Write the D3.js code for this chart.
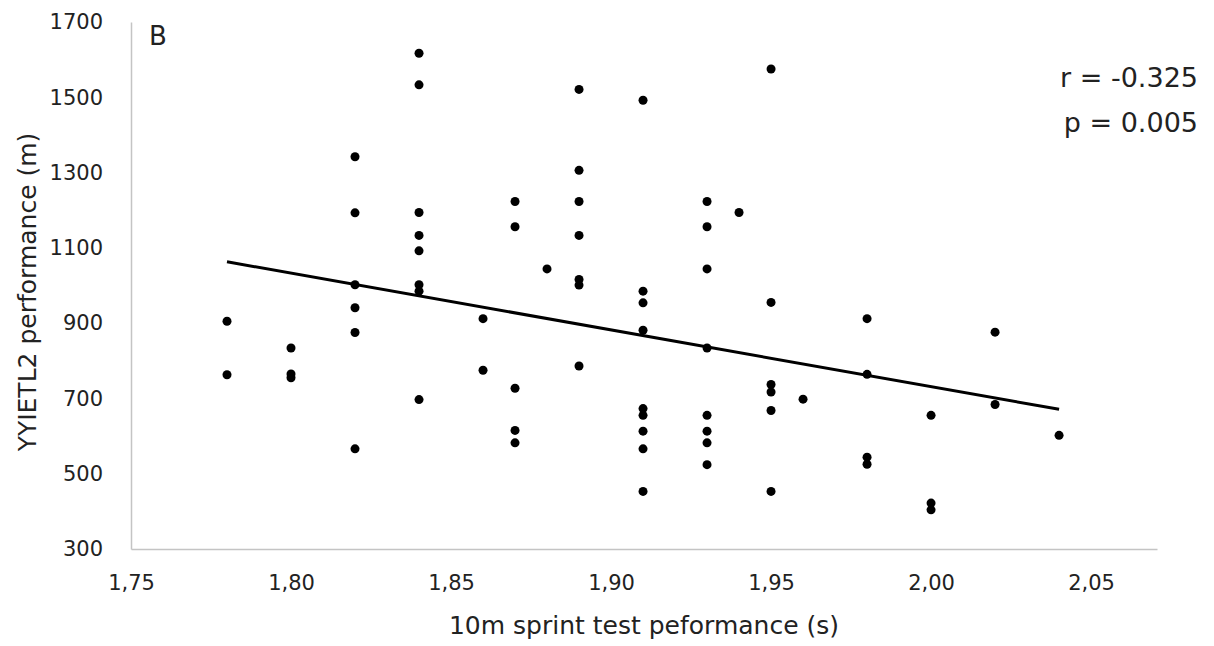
<!DOCTYPE html>
<html>
<head>
<meta charset="utf-8">
<script src="https://cdn.jsdelivr.net/npm/d3@7"></script>
<style>
  body { margin: 0; background: #fff; }
  svg text { font-family: "DejaVu Sans", Verdana, sans-serif; fill: #222; }
  .axis path { stroke: #c4c4c4; stroke-width: 1.5; }
</style>
</head>
<body>
<div id="chart"></div>
<script>
// sprint time (s) per group and the YYIETL2 distances (m)
const sprintTimes = [1.78, 1.80, 1.82, 1.84, 1.86, 1.87, 1.88, 1.89, 1.91, 1.93, 1.94, 1.95, 1.96, 1.98, 2.00, 2.02, 2.04];
const yyietlValues = [
    [905, 763],
    [834, 765, 755],
    [1342, 1193, 1002, 941, 875, 566],
    [1617, 1533, 1194, 1133, 1092, 1002, 985, 697],
    [912, 775],
    [1223, 1156, 727, 615, 582],
    [1044],
    [1521, 1306, 1223, 1133, 1016, 1001, 786],
    [1492, 985, 954, 881, 673, 655, 613, 566, 453],
    [1223, 1156, 1044, 834, 655, 613, 582, 524],
    [1194],
    [1575, 955, 737, 717, 668, 453],
    [698],
    [912, 764, 544, 525],
    [655, 422, 404],
    [876, 684],
    [602]
];
const trendX = [1.78, 2.04];
const trendY = [1063, 671];
const xTicks = [1.75, 1.80, 1.85, 1.90, 1.95, 2.00, 2.05];
const yTicks = [300, 500, 700, 900, 1100, 1300, 1500, 1700];
const statLines = ['r = -0.325', 'p = 0.005'];

const width = 1214;
const height = 646;
const margin = { top: 22, right: 57, bottom: 97, left: 131 };

const points = [];
sprintTimes.forEach((t, i) => {
    yyietlValues[i].forEach(v => points.push({ x: t, y: v }));
});

const svg = d3.select('#chart')
    .append('svg')
    .attr('width', width)
    .attr('height', height);

const x = d3.scaleLinear()
    .domain([1.75, 2.0706])
    .range([margin.left, width - margin.right]);

const y = d3.scaleLinear()
    .domain([300, 1700])
    .range([height - margin.bottom, margin.top]);

const fmtX = d => d3.format('.2f')(d).replace('.', ',');

const xAxis = svg.append('g')
    .attr('class', 'axis')
    .attr('transform', `translate(0,${height - margin.bottom})`)
    .call(d3.axisBottom(x).tickValues(xTicks).tickFormat(fmtX).tickSize(0).tickPadding(26));
xAxis.selectAll('text').style('font-size', '21px');

const yAxis = svg.append('g')
    .attr('class', 'axis')
    .attr('transform', `translate(${margin.left},0)`)
    .call(d3.axisLeft(y).tickValues(yTicks).tickFormat(d3.format('d')).tickSize(0).tickPadding(28));
yAxis.selectAll('text').style('font-size', '21px');

// regression line
svg.append('line')
    .attr('x1', x(trendX[0]))
    .attr('y1', y(trendY[0]))
    .attr('x2', x(trendX[1]))
    .attr('y2', y(trendY[1]))
    .attr('stroke', '#000')
    .attr('stroke-width', 3);

svg.append('g')
    .selectAll('circle')
    .data(points)
    .enter()
    .append('circle')
    .attr('cx', d => x(d.x))
    .attr('cy', d => y(d.y))
    .attr('r', 4.5)
    .attr('fill', '#000');

svg.append('text')
    .attr('x', 149)
    .attr('y', 45)
    .style('font-size', '26px')
    .text('B');

svg.selectAll('.stat')
    .data(statLines)
    .enter()
    .append('text')
    .attr('class', 'stat')
    .attr('x', 1198)
    .attr('y', (d, i) => 87 + i * 45)
    .attr('text-anchor', 'end')
    .style('font-size', '27px')
    .text(d => d);

svg.append('text')
    .attr('x', (margin.left + width - margin.right) / 2)
    .attr('y', 634)
    .attr('text-anchor', 'middle')
    .style('font-size', '25px')
    .text('10m sprint test peformance (s)');

svg.append('text')
    .attr('transform', `translate(36,292) rotate(-90)`)
    .attr('text-anchor', 'middle')
    .style('font-size', '25px')
    .text('YYIETL2 performance (m)');
</script>
</body>
</html>
